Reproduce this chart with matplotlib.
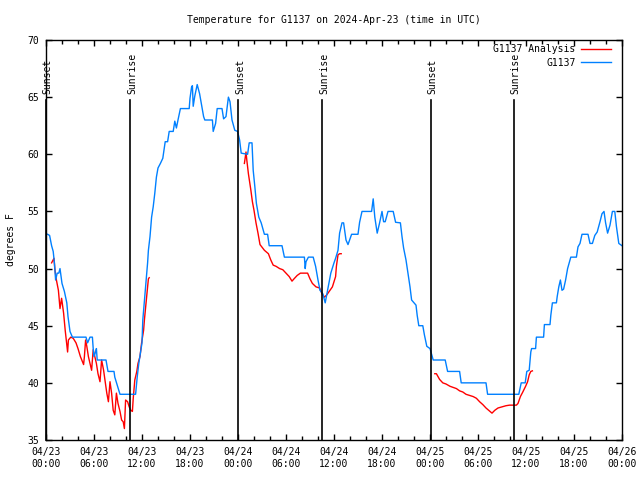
import numpy as np
import matplotlib
matplotlib.use("Agg")
import matplotlib.pyplot as plt

plt.rcParams['font.family'] = ['DejaVu Sans Mono']
plt.rcParams['font.size'] = 7

# hours since 04/23 00:00 UTC
obs_hours = [0.2, 0.45, 0.7, 0.9, 1.05, 1.2, 1.4, 1.6, 1.75, 2.0,
             2.3, 2.6, 2.75, 3.0, 3.3, 5.0, 5.2, 5.5, 5.8, 5.9,
             6.0, 6.2, 6.3, 6.4, 7.5, 7.75, 8.5, 8.6, 8.9, 9.25,
             11.2, 11.4, 11.6, 11.8, 12.0, 12.1, 12.4, 12.7, 12.8, 13.0,
             13.2, 13.4, 13.6, 13.8, 14.0, 14.3, 14.6, 14.9, 15.2, 15.4,
             15.9, 16.1, 16.3, 16.5, 16.8, 17.9, 18.0, 18.2, 18.3, 18.4,
             18.6, 18.9, 19.2, 19.4, 19.7, 19.85, 20.8, 20.9, 21.2, 21.4,
             22.0, 22.2, 22.5, 22.8, 23.0, 23.25, 23.6, 23.95, 24.2, 24.4,
             25.2, 25.4, 25.75, 25.9, 26.1, 26.3, 26.6, 26.9, 27.3, 27.7,
             27.9, 29.5, 29.8, 32.3, 32.4, 32.5, 32.8, 33.4, 33.7, 34.0,
             34.25, 34.6, 34.9, 35.2, 35.6, 36.0, 36.2, 36.5, 36.7, 37.0,
             37.2, 37.5, 37.75, 38.2, 39.0, 39.2, 39.5, 40.7, 40.9, 41.1,
             41.4, 41.7, 42.0, 42.2, 42.4, 42.75, 43.4, 43.7, 44.3, 44.5,
             44.7, 45.0, 45.25, 45.5, 45.7, 46.0, 46.25, 46.4, 46.6, 47.1,
             47.3, 47.6, 48.0, 48.4, 49.9, 50.2, 51.7, 51.9, 55.0, 55.2,
             59.1, 59.4, 59.9, 60.1, 60.4, 60.6, 60.7, 61.2, 61.3, 62.2,
             62.3, 63.0, 63.1, 63.3, 63.8, 63.9, 64.1, 64.3, 64.5, 64.7,
             64.95, 65.2, 65.6, 66.3, 66.5, 66.75, 67.0, 67.75, 68.0, 68.3,
             68.6, 68.9, 69.25, 69.5, 69.75, 69.95, 70.2, 70.5, 70.8, 71.1,
             71.3, 71.6, 71.9, 72.0]
obs_temp = [53.0, 52.9, 52.0, 51.5, 50.5, 49.0, 49.6, 49.6, 50.0, 48.7,
            48.0, 47.0, 45.8, 44.5, 44.0, 44.0, 43.5, 44.0, 44.0, 43.0,
            42.3, 42.7, 43.0, 42.0, 42.0, 41.0, 41.0, 40.5, 39.8, 39.0,
            39.0, 40.5, 41.7, 42.6, 43.5, 45.5, 48.0, 50.5, 51.6, 52.8,
            54.5, 55.4, 56.6, 58.0, 58.8, 59.2, 59.65, 61.1, 61.1, 62.0,
            62.0, 62.9, 62.3, 63.0, 64.0, 64.0, 64.9, 65.9, 66.0, 64.2,
            65.1, 66.1, 65.3, 64.5, 63.3, 63.0, 63.0, 62.0, 62.7, 64.0,
            64.0, 63.1, 63.3, 65.0, 64.6, 63.0, 62.1, 62.0, 61.25, 60.1,
            60.0, 61.0, 61.0, 58.6, 57.2, 55.7, 54.5, 54.0, 53.0, 53.0,
            52.0, 52.0, 51.0, 51.0, 50.0, 50.6, 51.0, 51.0, 50.2, 49.0,
            48.1, 47.8, 47.0, 48.1, 49.6, 50.5, 50.9, 51.6, 53.1, 54.0,
            54.0, 52.5, 52.1, 53.0, 53.0, 54.05, 55.0, 55.0, 56.1, 54.5,
            53.1, 54.0, 55.0, 54.1, 54.1, 55.0, 55.0, 54.05, 54.0, 52.8,
            51.8, 50.75, 49.6, 48.4, 47.25, 47.0, 46.8, 45.9, 45.0, 45.0,
            44.2, 43.2, 43.0, 42.0, 42.0, 41.0, 41.0, 40.0, 40.0, 39.0,
            39.0, 40.0, 40.0, 41.0, 41.1, 42.7, 43.0, 43.0, 44.0, 44.0,
            45.1, 45.1, 45.9, 47.0, 47.0, 47.55, 48.4, 49.0, 48.1, 48.2,
            49.0, 50.0, 51.0, 51.0, 51.9, 52.2, 53.0, 53.0, 52.2, 52.2,
            52.9, 53.2, 54.1, 54.8, 55.0, 54.0, 53.1, 53.8, 55.0, 55.0,
            53.7, 52.2, 52.05, 52.0]

nan = np.nan
ana_hours = [0.7, 1.0, 1.1, 1.3, 1.55, 1.75, 1.95, 2.2, 2.4, 2.7,
             2.8, 3.1, 3.4, 3.75, 4.0, 4.3, 4.7, 4.8, 4.95, 5.1,
             5.3, 5.5, 5.7, 5.9, 6.1, 6.3, 6.5, 6.75, 6.95, 7.2,
             7.4, 7.6, 7.8, 8.0, 8.2, 8.4, 8.6, 8.8, 9.0, 9.25,
             9.45, 9.65, 9.8, 9.95, 10.2, 10.4, 10.6, 10.8, 10.9, 11.1,
             11.35, 11.5, 11.75, 11.95, 12.2, 12.3, 12.5, 12.7, 12.8, 12.9,
             nan,
             24.8, 25.0, 25.1, 25.3, 25.6, 25.8, 26.0, 26.25, 26.5, 26.75,
             27.3, 27.8, 28.1, 28.4, 28.75, 29.2, 29.6, 30.0, 30.4, 30.75,
             31.0, 31.4, 31.8, 32.3, 32.7, 33.0, 33.3, 33.75, 34.2, 34.5,
             34.8, 35.1, 35.4, 35.8, 36.2, 36.3, 36.5, 36.7, 36.9,
             nan,
             48.6, 48.8, 49.2, 49.6, 50.0, 50.5, 50.9, 51.3, 51.7, 52.1,
             52.5, 52.95, 53.4, 53.8, 54.2, 54.6, 55.0, 55.5, 55.75, 56.1,
             56.5, 57.0, 57.5, 57.95, 58.4, 58.8, 59.0, 59.3, 59.6, 59.95,
             60.2, 60.4, 60.6, 60.8]
ana_temp = [50.5, 50.9, 50.0, 49.0, 48.1, 46.5, 47.4, 46.1, 44.6, 42.7,
            43.75, 44.0, 43.9, 43.5, 43.0, 42.3, 41.6, 42.3, 43.75, 43.2,
            42.3, 41.7, 41.1, 42.9, 42.3, 41.7, 40.8, 40.1, 42.0, 41.1,
            40.1, 39.1, 38.35, 40.1, 39.1, 37.6, 37.2, 39.1, 38.2, 37.5,
            36.75, 36.6, 36.0, 38.5, 38.35, 37.9, 37.6, 37.5, 38.6, 40.25,
            41.0, 41.7, 42.3, 43.5, 44.6, 45.5, 47.0, 48.4, 49.1, 49.2,
            nan,
            59.2, 60.2, 59.5, 58.3, 56.9, 55.85, 55.1, 54.0, 53.1, 52.1,
            51.6, 51.3, 50.75, 50.3, 50.2, 50.0, 49.9, 49.6, 49.3, 48.9,
            49.1, 49.4, 49.6, 49.6, 49.6, 49.1, 48.7, 48.4, 48.3, 47.8,
            47.5, 47.7, 48.0, 48.4, 49.3, 50.2, 51.2, 51.3, 51.3,
            nan,
            40.8, 40.8, 40.3, 40.0, 39.9, 39.7, 39.6, 39.5, 39.3, 39.2,
            39.0, 38.9, 38.8, 38.65, 38.35, 38.1, 37.8, 37.5, 37.35, 37.6,
            37.8, 37.9, 38.0, 38.05, 38.05, 38.05, 38.2, 38.8, 39.2, 39.7,
            40.1, 40.7, 41.0, 41.05]

sun_hours = [0.02, 10.54, 24.04, 34.54, 48.08, 58.46]
sun_labels = ["Sunset", "Sunrise", "Sunset", "Sunrise", "Sunset", "Sunrise"]

tick_hours = [0, 6, 12, 18, 24, 30, 36, 42, 48, 54, 60, 66, 72]
tick_labels = ["04/23\n00:00", "04/23\n06:00", "04/23\n12:00", "04/23\n18:00",
               "04/24\n00:00", "04/24\n06:00", "04/24\n12:00", "04/24\n18:00",
               "04/25\n00:00", "04/25\n06:00", "04/25\n12:00", "04/25\n18:00",
               "04/26\n00:00"]

fig = plt.figure(figsize=(6.4, 4.8), dpi=100)
ax = fig.add_axes([46 / 640, 40 / 480, 576 / 640, 400 / 480])

ax.plot(ana_hours, ana_temp, color='#ff0000', lw=1.0, label="G1137 Analysis")
ax.plot(obs_hours, obs_temp, color='#0080ff', lw=1.0, label="G1137")

for h, lab in zip(sun_hours, sun_labels):
    ax.plot([h, h], [0, 0.85], color='black', lw=1.2,
            transform=ax.get_xaxis_transform(), clip_on=False)
    ax.text(h + 0.2, 0.865, lab, rotation=90, ha='center', va='bottom',
            transform=ax.get_xaxis_transform())

ax.set_xlim(0, 72)
ax.set_ylim(35, 70)
ax.set_xticks(tick_hours)
ax.set_xticklabels(tick_labels)
ax.set_xticks(np.arange(0, 73, 2), minor=True)
ax.set_yticks(np.arange(35, 71, 5))
ax.tick_params(which='both', direction='in', top=True, right=True,
               length=4, width=1, pad=5)
ax.tick_params(which='minor', length=3)
for s in ax.spines.values():
    s.set_linewidth(1.0)

ax.set_ylabel("degrees F", labelpad=8)
ax.set_title("Temperature for G1137 on 2024-Apr-23 (time in UTC)",
             fontsize=7, pad=12)

ax.legend(loc='upper right', bbox_to_anchor=(0.992, 1.006), frameon=False,
          markerfirst=False, handlelength=3.0, handletextpad=0.6,
          labelspacing=0.35, borderaxespad=0.3)

fig.savefig("out.png", dpi=100)
